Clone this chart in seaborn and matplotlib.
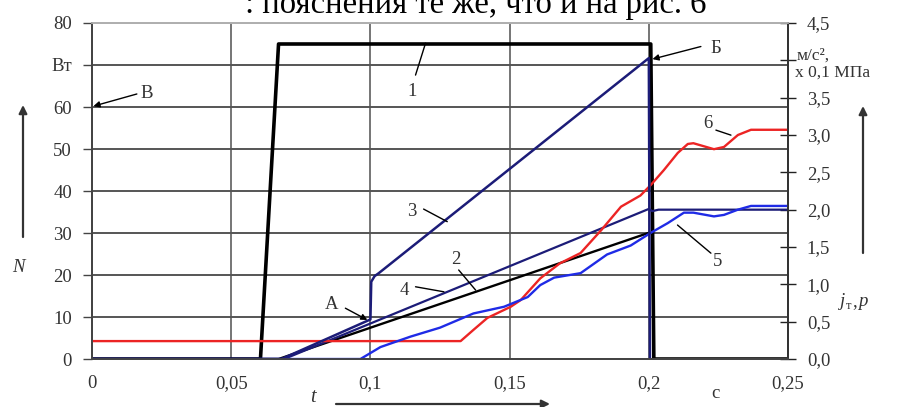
import matplotlib
matplotlib.use("Agg")
import matplotlib.pyplot as plt
import seaborn as sns

# ---- data -------------------------------------------------------------
# curve 1: electric power N, W (left axis), time in s
t_power = [0.0, 0.0605, 0.0670, 0.2007, 0.2018, 0.25]
power = [0, 0, 75, 75, 0, 0]

# curves 2..6 on the right axis (j_т, m/s^2 ; p, x0.1 MPa)
t_c3 = [0.0, 0.068, 0.1, 0.1003, 0.1015, 0.103, 0.2, 0.2004]
c3 = [0, 0, 0.53, 1.035, 1.11, 1.15, 4.03, 0]

t_c2 = [0.0, 0.069, 0.2, 0.2012, 0.2035, 0.25]
c2 = [0, 0, 2.01, 1.98, 2.0, 2.0]

t_c4 = [0.0, 0.067, 0.2]
c4 = [0, 0, 1.69]

t_c5 = [0.0, 0.0964, 0.1036, 0.1144, 0.125, 0.137, 0.148, 0.1565, 0.161,
        0.166, 0.1755, 0.185, 0.1935, 0.2007, 0.2068, 0.2126, 0.216, 0.2234,
        0.227, 0.232, 0.2367, 0.25]
c5 = [0, 0, 0.16, 0.30, 0.42, 0.61, 0.70, 0.83, 0.99, 1.09, 1.15, 1.40,
      1.52, 1.69, 1.82, 1.96, 1.96, 1.91, 1.93, 2.00, 2.05, 2.05]

t_c6 = [0.0, 0.1324, 0.137, 0.142, 0.1504, 0.154, 0.161, 0.168, 0.1755,
        0.183, 0.190, 0.197, 0.2007, 0.2054, 0.2104, 0.214, 0.216, 0.2234,
        0.227, 0.232, 0.2367, 0.25]
c6 = [0.24, 0.24, 0.39, 0.55, 0.70, 0.79, 1.08, 1.28, 1.42, 1.73, 2.04,
      2.19, 2.33, 2.53, 2.76, 2.88, 2.89, 2.81, 2.84, 3.00, 3.07, 3.07]

x_ticks = [0, 0.05, 0.1, 0.15, 0.2, 0.25]
x_labels = ["0", "0,05", "0,1", "0,15", "0,2", "0,25"]
left_ticks = [0, 10, 20, 30, 40, 50, 60, 70, 80]
left_labels = ["0", "10", "20", "30", "40", "50", "60", "Вт", "80"]
right_ticks = [0, 0.5, 1.0, 1.5, 2.0, 2.5, 3.0, 3.5, 4.0, 4.5]
right_labels = ["0,0", "0,5", "1,0", "1,5", "2,0", "2,5", "3,0", "3,5", "", "4,5"]

# ---- style ------------------------------------------------------------
sns.set_style("white")
plt.rcParams["font.family"] = ["Liberation Serif", "DejaVu Serif"]
TXT = "#333333"
FS = 13.5

fig = plt.figure(figsize=(9.04, 4.07), dpi=100)
ax = fig.add_axes([0.1018, 0.1179, 0.7699, 0.8256])
ax2 = ax.twinx()

NAVY = "#1c1c78"
BLUE = "#1f2be6"
RED = "#ec2424"

sns.lineplot(x=t_power, y=power, ax=ax, color="black", lw=2.6,
             sort=False, estimator=None)
sns.lineplot(x=t_c4, y=c4, ax=ax2, color="black", lw=1.7,
             sort=False, estimator=None)
sns.lineplot(x=t_c2, y=c2, ax=ax2, color=NAVY, lw=1.6,
             sort=False, estimator=None)
sns.lineplot(x=t_c6, y=c6, ax=ax2, color=RED, lw=1.7,
             sort=False, estimator=None)
sns.lineplot(x=t_c5, y=c5, ax=ax2, color=BLUE, lw=1.7,
             sort=False, estimator=None)
sns.lineplot(x=t_c3, y=c3, ax=ax2, color=NAVY, lw=1.8,
             sort=False, estimator=None)

# ---- axes -------------------------------------------------------------
ax.set_xlim(0, 0.25)
ax.set_ylim(0, 80)
ax2.set_ylim(0, 4.5)
ax.set_xticks(x_ticks, x_labels)
ax.set_yticks(left_ticks, left_labels)
ax2.set_yticks(right_ticks, right_labels)
ax.set_xlabel("")
ax.set_ylabel("")
ax2.set_ylabel("")

ax.grid(True, color="#555555", lw=1.4)
ax.grid(True, axis="x", color="#6a6a6a", lw=1.3)
ax2.grid(False)

ax.tick_params(axis="y", direction="out", length=6.5, width=1.0,
               color="#444444", pad=8, labelsize=FS, labelcolor=TXT)
ax.tick_params(axis="x", direction="out", length=3.5, width=1.0,
               color="#444444", pad=8, labelsize=FS, labelcolor=TXT)
ax2.tick_params(axis="y", direction="inout", length=11, width=1.0,
                color="#222222", pad=8, labelsize=FS, labelcolor=TXT)

for a in (ax, ax2):
    a.spines["top"].set_color("#b0b0b0")
    a.spines["left"].set_color("#444444")
    a.spines["right"].set_color("#333333")
    a.spines["bottom"].set_color("#444444")
    for s in a.spines.values():
        s.set_linewidth(1.3)

# ---- curve labels with leader lines (left-axis units) -----------------
def tag(text, xy_text, p0, p1):
    ax2.plot([p0[0], p1[0]], [p0[1] * 4.5 / 80, p1[1] * 4.5 / 80],
             color="black", lw=1.0)
    ax2.text(xy_text[0], xy_text[1] * 4.5 / 80, text, fontsize=FS,
             color=TXT, ha="center", va="center")

tag("1", (0.115, 63.7), (0.1162, 67.6), (0.1198, 75.2))
tag("2", (0.1306, 23.6), (0.1317, 21.2), (0.1378, 16.4))
tag("3", (0.115, 35.1), (0.1191, 35.7), (0.1276, 32.7))
tag("4", (0.112, 16.4), (0.1162, 17.2), (0.1264, 16.0))
tag("5", (0.2247, 23.2), (0.2223, 25.2), (0.2103, 31.9))
tag("6", (0.2211, 56.1), (0.2241, 54.5), (0.2295, 53.3))


def pointer(text, xy_text, start, tip):
    ax2.annotate("", xy=(tip[0], tip[1] * 4.5 / 80),
                 xytext=(start[0], start[1] * 4.5 / 80),
                 arrowprops=dict(arrowstyle="-|>", color="black", lw=1.0,
                                 mutation_scale=9, shrinkA=0, shrinkB=0))
    ax2.text(xy_text[0], xy_text[1] * 4.5 / 80, text, fontsize=FS,
             color=TXT, ha="center", va="center")

pointer("А", (0.0862, 12.9), (0.091, 12.1), (0.0989, 9.3))
pointer("Б", (0.2241, 74.0), (0.2187, 74.4), (0.2013, 71.4))
pointer("В", (0.0197, 63.2), (0.0161, 63.1), (0.0005, 60.2))

# ---- axis captions and arrows -----------------------------------------
fig.text(18, 140, "N", transform=None, fontsize=FS, style="italic",
         color=TXT, ha="center", va="center")
fig.text(313, 10, "t", transform=None, fontsize=FS + 1, style="italic",
         color=TXT, ha="center", va="center")
fig.text(715, 14, "с", transform=None, fontsize=FS, color=TXT,
         ha="center", va="center")
fig.text(797, 351, "м/с²,", transform=None, fontsize=12.5, color=TXT,
         ha="left", va="center")
fig.text(795, 334, "х 0,1 МПа", transform=None, fontsize=12.5, color=TXT,
         ha="left", va="center")
fig.text(840, 105, "j", transform=None, fontsize=FS, style="italic",
         color=TXT, ha="left", va="center")
fig.text(846, 101, "т", transform=None, fontsize=9, color=TXT,
         ha="left", va="center")
fig.text(852, 105, ",", transform=None, fontsize=FS, color=TXT,
         ha="left", va="center")
fig.text(858, 105, "p", transform=None, fontsize=FS, style="italic",
         color=TXT, ha="left", va="center")

arrow_kw = dict(arrowstyle="-|>", color="#333333", lw=1.6,
                mutation_scale=12, shrinkA=0, shrinkB=0)
ax.annotate("", xy=(23, 302), xytext=(23, 170), xycoords="figure pixels",
            textcoords="figure pixels", arrowprops=arrow_kw,
            annotation_clip=False)
ax.annotate("", xy=(863, 301), xytext=(863, 154), xycoords="figure pixels",
            textcoords="figure pixels", arrowprops=arrow_kw,
            annotation_clip=False)
ax.annotate("", xy=(550, 3), xytext=(336, 3), xycoords="figure pixels",
            textcoords="figure pixels", arrowprops=arrow_kw,
            annotation_clip=False)

# caption line above the chart (its upper part runs off the top edge)
fig.text(245, 394, ": пояснения те же, что и на рис. 6", transform=None,
         fontsize=23.5, color="black", ha="left", va="baseline")

fig.savefig("out.png", dpi=100)
